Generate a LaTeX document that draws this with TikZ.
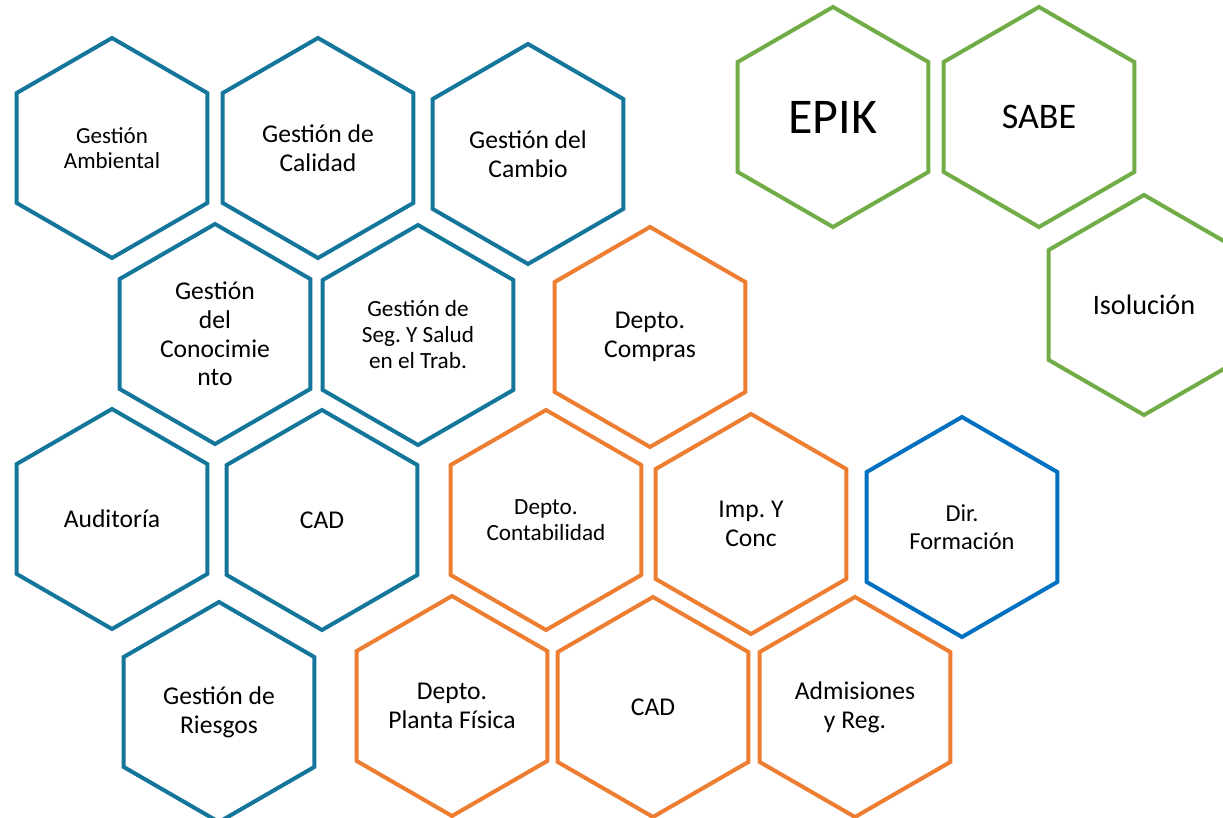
\documentclass[tikz,border=0pt]{standalone}
\usepackage{fontspec}
\setmainfont{Carlito}
\usetikzlibrary{shapes}
\definecolor{tealblue}{RGB}{20,118,154}
\definecolor{accorange}{RGB}{237,125,49}
\definecolor{accgreen}{RGB}{112,173,71}
\definecolor{dirblue}{RGB}{0,112,192}
\frenchspacing

\begin{document}
\begin{tikzpicture}[x=0.5pt, y=-0.5pt]
        \tikzstyle{hexa} = [regular polygon, regular polygon sides=6, shape border rotate=30, minimum size=110pt, inner sep=0pt, line width=2pt, align=center, text=black, font=\fontsize{12.8}{14.4}\selectfont]
        \tikzstyle{gestion} = [hexa, draw=tealblue]
        \tikzstyle{depto} = [hexa, draw=accorange]
        \tikzstyle{sistema} = [hexa, draw=accgreen]
        \tikzstyle{direccion} = [hexa, draw=dirblue]
        
        \useasboundingbox (0,0) rectangle (1223,818);
        
        \node (Amb) [gestion, font=\fontsize{11.5}{12.8}\selectfont] at (112,148) {Gestión\\Ambiental};
        \node (Cal) [gestion] at (318,148) {Gestión de\\Calidad};
        \node (Cam) [gestion] at (528,154) {Gestión del\\Cambio};
        \node (Con) [gestion] at (215,334) {Gestión\\del\\Conocimie\\nto};
        \node (Seg) [gestion, font=\fontsize{11.6}{13}\selectfont] at (418,335) {Gestión de\\Seg. Y Salud\\en el Trab.};
        \node (Aud) [gestion] at (112,519) {Auditoría};
        \node (CadA) [gestion] at (322,520) {CAD};
        \node (Rie) [gestion] at (219,712) {Gestión de\\Riesgos};
        
        \node (Com) [depto] at (650,337) {Depto.\\Compras};
        \node (Cont) [depto, font=\fontsize{11.6}{13.2}\selectfont] at (546,520) {Depto.\\Contabilidad};
        \node (Imp) [depto] at (751,524) {Imp. Y\\Conc};
        \node (Pla) [depto] at (452,706) {Depto.\\Planta Física};
        \node (CadB) [depto] at (653,707) {CAD};
        \node (Adm) [depto] at (855,707) {Admisiones\\y Reg.};
        
        \node (Dir) [direccion, font=\fontsize{12.2}{14}\selectfont] at (962,527) {Dir.\\Formación};
        
        \node (Epik) [sistema, font=\fontsize{25}{28}\selectfont] at (833,117) {EPIK};
        \node (Sabe) [sistema, font=\fontsize{18}{20}\selectfont] at (1039,117) {SABE};
        \node (Iso) [sistema, font=\fontsize{14.1}{16}\selectfont] at (1144,305) {Isolución};
        
    \end{tikzpicture}
\end{document}
